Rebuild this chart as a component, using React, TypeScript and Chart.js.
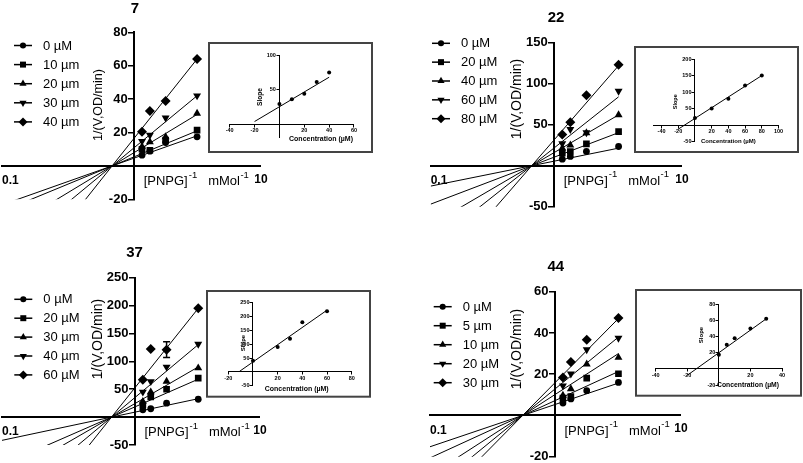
import React, { useEffect, useRef } from 'react';
import Chart from 'chart.js/auto';
import { drawPoint } from 'chart.js/helpers';

const W = 803;
const H = 463;
const FONT = "'Liberation Sans', Arial, Helvetica, sans-serif";

// 1/[PNPG] of every point in the Lineweaver-Burk plots
const invPnpg = [0.125, 0.25, 0.5, 1];

// compound 7
const labels7 = ['0 µM', '10 µm', '20 µm', '30 µm', '40 µm'];
const rates7 = [
  [6.4, 8.8, 14, 17.4],
  [10, 9.4, 15.4, 21.4],
  [11.6, 14.4, 17.4, 31.4],
  [14.8, 18.4, 28.8, 42],
  [20.4, 32.8, 38.8, 64],
];
const fitEnd7 = [18, 21, 30.8, 42, 64]; // fitted 1/V at the last 1/[S]
const cross7 = -0.35; // shared x-intercept of the fits
const yTicks7 = [-20, 20, 40, 60, 80];
const conc7 = [0, 10, 20, 30, 40];
const slopes7 = [29, 36, 44, 61, 74.5];
const slopeFit7 = [1.07, 25]; // slope, intercept
const fitSpan7 = [-20, 40];
const insetX7 = [-40, -20, 20, 40, 60];
const insetY7 = [50, 100];

// compound 22
const labels22 = ['0 µM', '20 µM', '40 µm', '60 µM', '80 µM'];
const rates22 = [
  [8, 11.3, 17.3, 23.4],
  [15.3, 17.3, 26.6, 41.5],
  [21.4, 25, 40, 62],
  [27, 44.4, 40.3, 91],
  [38, 52.9, 86, 123],
];
const fitEnd22 = [21.4, 40.3, 62, 84, 122];
const cross22 = -0.35;
const yTicks22 = [-50, 50, 100, 150];
const conc22 = [0, 20, 40, 60, 80];
const slopes22 = [22, 50, 80, 120, 150];
const slopeFit22 = [1.62, 20.4];
const fitSpan22 = [-20, 80];
const insetX22 = [-40, -20, 20, 40, 60, 80, 100];
const insetY22 = [-50, 50, 100, 150, 200];

// compound 37
const labels37 = ['0 µM', '20 µM', '30 µm', '40 µm', '60 µM'];
const rates37 = [
  [13, 15, 25, 32],
  [22, 36, 50, 70],
  [28, 45, 64, 88],
  [45, 64, 90, 131],
  [67, 122, 121, 195],
];
const err37 = [0, 0, 14, 0]; // error bars on the 60 µM series
const fitEnd37 = [33, 68, 90, 130, 195];
const cross37 = -0.37;
const yTicks37 = [-50, 50, 100, 150, 200, 250];
const conc37 = [0, 20, 30, 40, 60];
const slopes37 = [40, 90, 120, 179, 219];
const slopeFit37 = [3.12, 35.8];
const fitSpan37 = [-11, 60];
const insetX37 = [-20, 20, 40, 60, 80];
const insetY37 = [-50, 50, 100, 150, 200, 250];

// compound 44
const labels44 = ['0 µM', '5 µm', '10 µm', '20 µM', '30 µm'];
const rates44 = [
  [6, 8, 12, 16],
  [8.4, 9.2, 18.1, 20.2],
  [9.7, 12.9, 24.9, 28.1],
  [14.4, 20.2, 31.9, 37.5],
  [18.4, 25.9, 36.7, 47.2],
];
const fitEnd44 = [15.7, 21.3, 30, 38, 47];
const cross44 = -0.51;
const yTicks44 = [-20, 20, 40, 60];
const conc44 = [0, 5, 10, 20, 30];
const slopes44 = [17.6, 30, 38, 50, 62];
const slopeFit44 = [1.4, 20];
const fitSpan44 = [-20, 30];
const insetX44 = [-40, -20, 20, 40];
const insetY44 = [-20, 20, 40, 60, 80];

const markers = [
  { style: 'circle', rotation: 0, radius: 3.4 },
  { style: 'rect', rotation: 0, radius: 4.7 },
  { style: 'triangle', rotation: 0, radius: 4.6 },
  { style: 'triangle', rotation: 180, radius: 4.6 },
  { style: 'rectRot', rotation: 0, radius: 5 },
];

// area = chart area in page px [left, top, right, bottom]
const panels: any[] = [
  {
    title: '7', labels: labels7, rates: rates7, fitEnd: fitEnd7, cross: cross7, yTicks: yTicks7,
    x: [-2.1, 2.0], y: [-20, 80], area: [2, 32.3, 260, 199.3],
    titleAt: [135, 9], yTitle: [99, 105, 12.5], legend: [43, 45.5, 19.1],
  },
  {
    title: '22', labels: labels22, rates: rates22, fitEnd: fitEnd22, cross: cross22, yTicks: yTicks22,
    x: [-1.92, 1.97], y: [-50, 150], area: [430.7, 42.7, 681, 206.7],
    titleAt: [556, 18.3], yTitle: [517, 99, 14], legend: [461, 43.3, 18.85],
  },
  {
    title: '37', labels: labels37, rates: rates37, fitEnd: fitEnd37, cross: cross37, yTicks: yTicks37,
    x: [-2.1, 1.96], y: [-50, 250], area: [2, 277.7, 259, 445],
    titleAt: [134.5, 253.3], yTitle: [98.5, 339, 14], legend: [43.3, 299.3, 18.9],
    errors: [null, null, null, null, err37],
  },
  {
    title: '44', labels: labels44, rates: rates44, fitEnd: fitEnd44, cross: cross44, yTicks: yTicks44,
    x: [-1.97, 1.97], y: [-20, 60], area: [430, 291.7, 680, 456.7],
    titleAt: [555.8, 266.7], yTitle: [516.7, 349, 14], legend: [462.7, 306.7, 19],
  },
];

const insets: any[] = [
  {
    conc: conc7, slopes: slopes7, fit: slopeFit7, span: fitSpan7, xTicks: insetX7, yTicks: insetY7,
    x: [-40, 60], y: [-20, 100], area: [229.7, 55, 354, 137.8], box: [209, 43, 372, 152],
    concAt: [321, 139, 7], slopeAt: [260, 97, 6.6],
  },
  {
    conc: conc22, slopes: slopes22, fit: slopeFit22, span: fitSpan22, xTicks: insetX22, yTicks: insetY22,
    x: [-50, 100], y: [-50, 200], area: [653.2, 59, 778.5, 141.7], box: [635, 47, 798, 152],
    concAt: [728.3, 141.7, 6], slopeAt: [675.3, 101.7, 5.5],
  },
  {
    conc: conc37, slopes: slopes37, fit: slopeFit37, span: fitSpan37, xTicks: insetX37, yTicks: insetY37,
    x: [-20, 80], y: [-50, 250], area: [228.3, 302.7, 351.7, 385.7], box: [207, 291, 370, 396.7],
    concAt: [296.7, 389, 7], slopeAt: [243.3, 343, 6],
  },
  {
    conc: conc44, slopes: slopes44, fit: slopeFit44, span: fitSpan44, xTicks: insetX44, yTicks: insetY44,
    x: [-40, 40], y: [-20, 80], area: [655.7, 304.3, 782, 385], box: [636, 290, 801, 395.7],
    concAt: [748, 385, 6.8], slopeAt: [701, 335, 6],
  },
];

const padFor = (a: number[]) => ({ left: a[0], top: a[1], right: W - a[2], bottom: H - a[3] });

function rotatedText(ctx: CanvasRenderingContext2D, text: string, x: number, y: number) {
  ctx.save();
  ctx.translate(x, y);
  ctx.rotate(-Math.PI / 2);
  ctx.textAlign = 'center';
  ctx.textBaseline = 'middle';
  ctx.fillText(text, 0, 0);
  ctx.restore();
}

// tick labels beside axes that cross at zero
function yLabels(ctx: CanvasRenderingContext2D, scales: any, ticks: number[], gap: number) {
  const ax = scales.x.getPixelForValue(0);
  ctx.textAlign = 'right';
  ctx.textBaseline = 'middle';
  ticks.forEach((v) => ctx.fillText(String(v), ax - gap, scales.y.getPixelForValue(v)));
}

function xLabels(ctx: CanvasRenderingContext2D, scales: any, ticks: number[], gap: number) {
  const ay = scales.y.getPixelForValue(0);
  ctx.textAlign = 'center';
  ctx.textBaseline = 'middle';
  ticks.forEach((v) => ctx.fillText(String(v), scales.x.getPixelForValue(v), ay + gap));
}

function drawPanelText(chart: any, p: any) {
  const { ctx, chartArea, scales } = chart;
  const axisY = scales.y.getPixelForValue(0);
  const axisX = scales.x.getPixelForValue(0);
  ctx.save();
  ctx.fillStyle = '#000';
  ctx.strokeStyle = '#000';

  // error bars
  (p.errors || []).forEach((errs: number[] | null, i: number) => {
    if (!errs) return;
    errs.forEach((e, j) => {
      if (!e) return;
      const px = scales.x.getPixelForValue(invPnpg[j]);
      const top = scales.y.getPixelForValue(p.rates[i][j] + e);
      const bot = scales.y.getPixelForValue(p.rates[i][j] - e);
      ctx.lineWidth = 1.5;
      ctx.beginPath();
      ctx.moveTo(px, top); ctx.lineTo(px, bot);
      ctx.moveTo(px - 3.5, top); ctx.lineTo(px + 3.5, top);
      ctx.moveTo(px - 3.5, bot); ctx.lineTo(px + 3.5, bot);
      ctx.stroke();
    });
  });

  ctx.font = `bold 13px ${FONT}`;
  yLabels(ctx, scales, p.yTicks, 6.5);

  ctx.textBaseline = 'middle';
  ctx.textAlign = 'center';
  ctx.font = `bold 15px ${FONT}`;
  ctx.fillText(p.title, p.titleAt[0], p.titleAt[1]);

  ctx.font = `${p.yTitle[2]}px ${FONT}`;
  rotatedText(ctx, '1/(V,OD/min)', p.yTitle[0], p.yTitle[1]);

  // x axis end labels
  ctx.font = `bold 12px ${FONT}`;
  ctx.textAlign = 'left';
  ctx.fillText('0.1', chartArea.left, axisY + 15);
  ctx.textAlign = 'center';
  ctx.fillText('10', chartArea.right + 1, axisY + 13.5);

  // x axis title with superscripts
  ctx.textAlign = 'left';
  let cx = axisX + 9.5;
  const ty = axisY + 15.5;
  const parts: [string, boolean, number][] = [['[PNPG]', false, 1], ['-1', true, 11], ['mMol', false, 0.5], ['-1', true, 0]];
  parts.forEach(([t, sup, gap]) => {
    ctx.font = sup ? `9.5px ${FONT}` : `13px ${FONT}`;
    ctx.fillText(t, cx, sup ? ty - 6.5 : ty);
    cx += ctx.measureText(t).width + gap;
  });

  // legend
  const [lx, ly, gap] = p.legend;
  p.labels.forEach((label: string, i: number) => {
    const y = ly + i * gap;
    ctx.lineWidth = 1.5;
    ctx.beginPath();
    ctx.moveTo(lx - 29, y);
    ctx.lineTo(lx - 11, y);
    ctx.stroke();
    const m = markers[i];
    drawPoint(ctx, { pointStyle: m.style, rotation: m.rotation, radius: m.radius * 0.9, borderWidth: 0 } as any, lx - 20, y);
    ctx.font = `13px ${FONT}`;
    ctx.textAlign = 'left';
    ctx.fillText(label, lx, y + 0.5);
  });
  ctx.restore();
}

function mainConfig(p: any): any {
  const last = invPnpg[invPnpg.length - 1];
  const fits = p.labels.map((label: string, i: number) => {
    const k = p.fitEnd[i] / (last - p.cross);
    return {
      label: label + ' fit',
      data: [p.x[0], last].map((x: number) => ({ x, y: k * (x - p.cross) })),
      showLine: true,
      borderColor: '#000',
      borderWidth: 1,
      pointRadius: 0,
    };
  });
  const points = p.labels.map((label: string, i: number) => ({
    label,
    data: invPnpg.map((x, j) => ({ x, y: p.rates[i][j] })),
    showLine: false,
    pointStyle: markers[i].style,
    pointRotation: markers[i].rotation,
    pointRadius: markers[i].radius,
    backgroundColor: '#000',
    borderColor: '#000',
    borderWidth: 0,
  }));
  return {
    type: 'scatter',
    data: { datasets: [...fits, ...points] },
    options: {
      animation: false,
      responsive: false,
      events: [],
      layout: { padding: padFor(p.area), autoPadding: false },
      plugins: { legend: { display: false }, tooltip: { enabled: false } },
      scales: {
        x: {
          type: 'linear', min: p.x[0], max: p.x[1], position: { y: 0 },
          ticks: { display: false },
          grid: { display: false },
          border: { display: true, color: '#000', width: 2 },
        },
        y: {
          type: 'linear', min: p.y[0], max: p.y[1], position: { x: 0 },
          afterBuildTicks: (s: any) => { s.ticks = p.yTicks.map((value: number) => ({ value })); },
          ticks: { display: false },
          grid: { drawOnChartArea: false, drawTicks: true, tickLength: 5, color: '#000', lineWidth: 1.5 },
          border: { display: true, color: '#000', width: 2 },
        },
      },
    },
    plugins: [{ id: 'panelText', afterDraw: (chart: any) => drawPanelText(chart, p) }],
  };
}

function drawInsetText(chart: any, s: any) {
  const { ctx, scales } = chart;
  const [x0, y0, x1, y1] = s.box;
  ctx.save();
  ctx.strokeStyle = '#444';
  ctx.lineWidth = 2;
  ctx.strokeRect(x0, y0, x1 - x0, y1 - y0);
  ctx.fillStyle = '#000';
  ctx.font = `bold 5.5px ${FONT}`;
  yLabels(ctx, scales, s.yTicks, 3.5);
  xLabels(ctx, scales, s.xTicks, 6.5);
  ctx.textAlign = 'center';
  ctx.textBaseline = 'middle';
  ctx.font = `bold ${s.concAt[2]}px ${FONT}`;
  ctx.fillText('Concentration (µM)', s.concAt[0], s.concAt[1]);
  ctx.font = `bold ${s.slopeAt[2]}px ${FONT}`;
  rotatedText(ctx, 'Slope', s.slopeAt[0], s.slopeAt[1]);
  ctx.restore();
}

function insetConfig(s: any): any {
  const axis = (range: number[], ticks: number[], pos: any) => ({
    type: 'linear', min: range[0], max: range[1], position: pos,
    afterBuildTicks: (sc: any) => { sc.ticks = ticks.map((value) => ({ value })); },
    ticks: { display: false },
    grid: { drawOnChartArea: false, drawTicks: true, tickLength: 2.5, color: '#000', lineWidth: 1 },
    border: { display: true, color: '#000', width: 1 },
  });
  return {
    type: 'scatter',
    data: {
      datasets: [
        {
          label: 'fit',
          data: s.span.map((x: number) => ({ x, y: s.fit[0] * x + s.fit[1] })),
          showLine: true, borderColor: '#000', borderWidth: 1, pointRadius: 0,
        },
        {
          label: 'slope',
          data: s.conc.map((x: number, i: number) => ({ x, y: s.slopes[i] })),
          pointRadius: 2, backgroundColor: '#000', borderWidth: 0,
        },
      ],
    },
    options: {
      animation: false,
      responsive: false,
      events: [],
      layout: { padding: padFor(s.area), autoPadding: false },
      plugins: { legend: { display: false }, tooltip: { enabled: false } },
      scales: {
        x: axis(s.x, s.xTicks, { y: 0 }),
        y: axis(s.y, s.yTicks, { x: 0 }),
      },
    },
    plugins: [{ id: 'insetText', afterDraw: (chart: any) => drawInsetText(chart, s) }],
  };
}

function ChartLayer({ build }: { build: () => any }) {
  const ref = useRef<HTMLCanvasElement>(null);
  useEffect(() => {
    if (!ref.current) return;
    const chart = new Chart(ref.current, build());
    return () => chart.destroy();
  }, []);
  return <canvas ref={ref} width={W} height={H} style={{ position: 'absolute', left: 0, top: 0 }} />;
}

export default function App() {
  return (
    <div style={{ position: 'absolute', left: 0, top: 0, width: W, height: H, overflow: 'hidden', background: '#fff' }}>
      {panels.map((p) => <ChartLayer key={'m' + p.title} build={() => mainConfig(p)} />)}
      {insets.map((s, i) => <ChartLayer key={'i' + i} build={() => insetConfig(s)} />)}
    </div>
  );
}
